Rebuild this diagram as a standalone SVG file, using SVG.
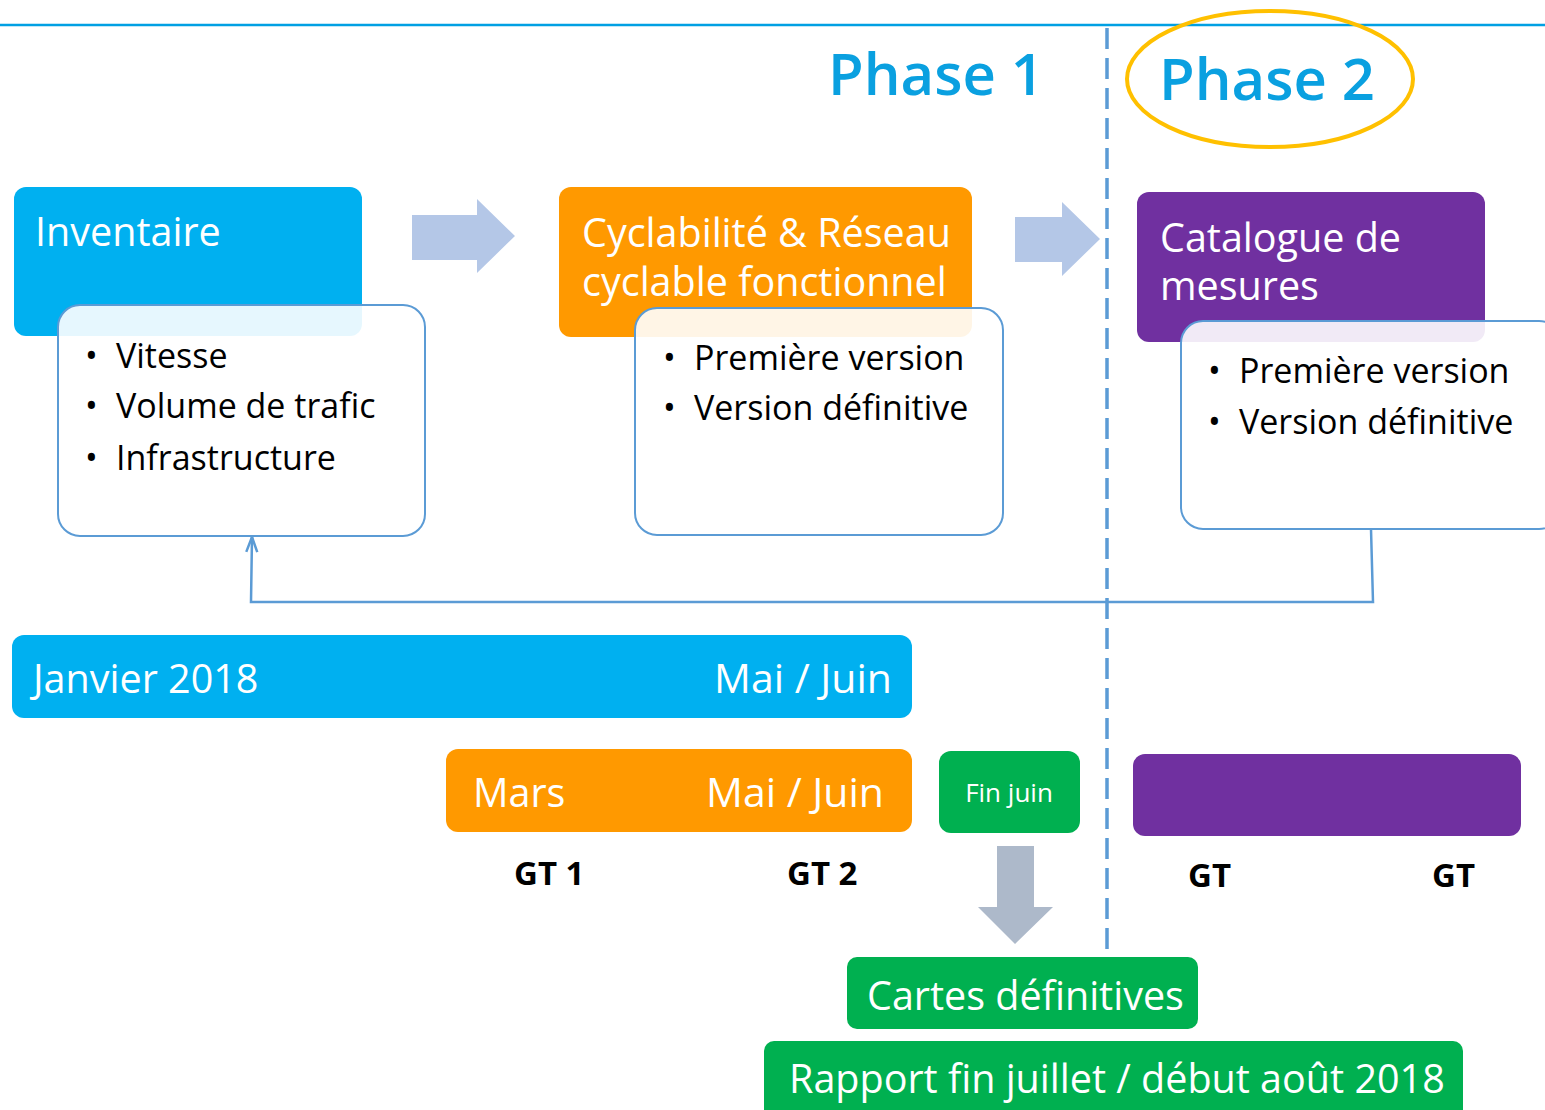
<svg xmlns="http://www.w3.org/2000/svg" width="1545" height="1110" viewBox="0 0 1545 1110">
<defs>
<style>
text{font-family:"Open Sans","Noto Sans","DejaVu Sans",sans-serif}
.w{fill:#ffffff;font-size:39.5px}
.b{fill:#000000;font-size:34px}
.ph{fill:#0aa0e0;font-size:58px;font-weight:600}
.gt{fill:#000000;font-size:33px;font-weight:700}
.card{fill:#ffffff;fill-opacity:0.9;stroke:#5b9bd5;stroke-width:2}
.blue{fill:#00b0f0}
.orange{fill:#ff9900}
.purple{fill:#7030a0}
.green{fill:#00b050}
.conn{fill:none;stroke:#5b9bd5;stroke-width:2.5}
</style>
<marker id="open" markerWidth="18" markerHeight="16" refX="16" refY="8" orient="auto" markerUnits="userSpaceOnUse" viewBox="0 0 18 16">
<polyline points="1,2.5 16,8 1,13.5" fill="none" stroke="#5b9bd5" stroke-width="2.5"/>
</marker>
</defs>
<rect width="1545" height="1110" fill="#ffffff"/>

<g id="top-line"><line x1="0" y1="25" x2="1545" y2="25" stroke="#00a0e3" stroke-width="2.5"/></g>
<g id="phase-divider"><line x1="1107" y1="28" x2="1107" y2="955" stroke="#5b9bd5" stroke-width="3.5" stroke-dasharray="21,9"/></g>

<g id="phase1"><text class="ph" x="828" y="95">Phase 1</text></g>
<g id="phase2">
<text class="ph" x="1159" y="100">Phase 2</text>
<ellipse cx="1270" cy="79" rx="143" ry="68" fill="none" stroke="#ffc000" stroke-width="4"/>
</g>

<g id="flow-arrows">
<polygon points="412,215 477,215 477,199 515,236 477,273 477,260 412,260" fill="#b4c7e7"/>
<polygon points="1015,217 1062,217 1062,202 1100,239 1062,276 1062,262 1015,262" fill="#b4c7e7"/>
</g>

<g id="connectors">
<polyline class="conn" points="1371,529 1373,602 251,602 252,537" marker-end="url(#open)"/>
</g>

<g id="inventaire">
<rect class="blue" x="14" y="187" width="348" height="149" rx="12"/>
<text class="w" x="35" y="246">Inventaire</text>
</g>
<g id="inventaire-details">
<rect class="card" x="58" y="305" width="367" height="231" rx="22"/>
<text class="b" x="85" y="368">•</text><text class="b" x="116" y="368">Vitesse</text>
<text class="b" x="85" y="418">•</text><text class="b" x="116" y="418">Volume de trafic</text>
<text class="b" x="85" y="470">•</text><text class="b" x="116" y="470">Infrastructure</text>
</g>

<g id="cyclabilite">
<rect class="orange" x="559" y="187" width="413" height="150" rx="12"/>
<text class="w" x="582" y="247">Cyclabilité &amp; Réseau</text>
<text class="w" x="582" y="296">cyclable fonctionnel</text>
</g>
<g id="cyclabilite-details">
<rect class="card" x="635" y="308" width="368" height="227" rx="22"/>
<text class="b" x="663" y="370">•</text><text class="b" x="694" y="370">Première version</text>
<text class="b" x="663" y="420">•</text><text class="b" x="694" y="420">Version définitive</text>
</g>

<g id="catalogue">
<rect class="purple" x="1137" y="192" width="348" height="150" rx="12"/>
<text class="w" x="1160" y="252">Catalogue de</text>
<text class="w" x="1160" y="300">mesures</text>
</g>
<g id="catalogue-details">
<rect class="card" x="1181" y="321" width="380" height="208" rx="22"/>
<text class="b" x="1208" y="383">•</text><text class="b" x="1239" y="383">Première version</text>
<text class="b" x="1208" y="434">•</text><text class="b" x="1239" y="434">Version définitive</text>
</g>

<g id="bar-janvier">
<rect class="blue" x="12" y="635" width="900" height="83" rx="12"/>
<text class="w" x="33" y="693">Janvier 2018</text>
<text class="w" x="892" y="693" text-anchor="end" style="font-size:41px">Mai / Juin</text>
</g>
<g id="bar-mars">
<rect class="orange" x="446" y="749" width="466" height="83" rx="12"/>
<text class="w" x="473" y="807">Mars</text>
<text class="w" x="884" y="807" text-anchor="end" style="font-size:41px">Mai / Juin</text>
</g>
<g id="bar-finjuin">
<rect class="green" x="939" y="751" width="141" height="82" rx="12"/>
<text class="w" x="1009" y="802" text-anchor="middle" style="font-size:26px">Fin juin</text>
</g>
<g id="bar-phase2">
<rect class="purple" x="1133" y="754" width="388" height="82" rx="12"/>
</g>

<g id="gt-labels">
<text class="gt" x="514" y="885">GT 1</text>
<text class="gt" x="787" y="885">GT 2</text>
<text class="gt" x="1188" y="887">GT</text>
<text class="gt" x="1432" y="887">GT</text>
</g>

<g id="down-arrow">
<polygon points="997,846 1034,846 1034,907 1053,907 1015,944 978,907 997,907" fill="#adb9ca"/>
</g>

<g id="cartes">
<rect class="green" x="847" y="957" width="351" height="72" rx="10"/>
<text class="w" x="867" y="1010">Cartes définitives</text>
</g>
<g id="rapport">
<rect class="green" x="764" y="1041" width="699" height="85" rx="10"/>
<text class="w" x="789" y="1093">Rapport fin juillet / début août 2018</text>
</g>
</svg>
